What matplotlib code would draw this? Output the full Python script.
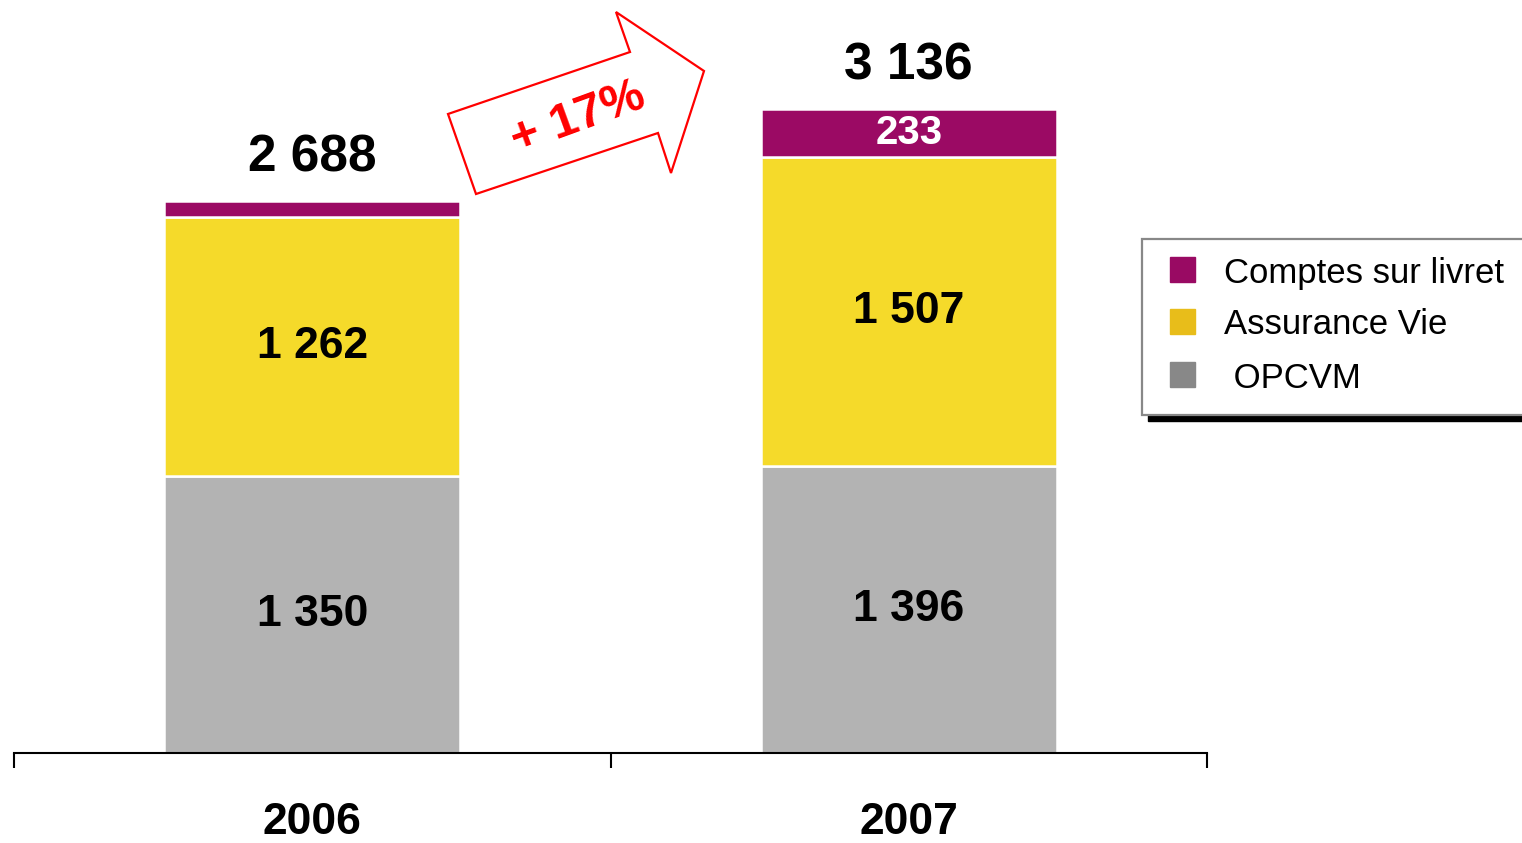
import matplotlib.pyplot as plt
from matplotlib.patches import Rectangle, Polygon

plt.rcParams['font.family'] = ['Liberation Sans', 'DejaVu Sans']

years = ['2006', '2007']
opcvm = [1350, 1396]
assurance_vie = [1262, 1507]
comptes_livret = [76, 233]
totals = [2688, 3136]

series_names = ['OPCVM', 'Assurance Vie', 'Comptes sur livret']
bar_colors = ['#b3b3b3', '#f5da2a', '#9b0a64']
legend_colors = ['#888888', '#e8bd1a', '#990a63']

W, H = 1522, 843


def fmt(v):
    return f"{v:,}".replace(",", " ")


def px(x, y):
    # pixel position -> figure fraction
    return x / W, 1 - y / H


fig = plt.figure(figsize=(W / 100, H / 100), dpi=100)
ax = fig.add_axes([14 / W, (H - 753) / H, (1207 - 14) / W, 753 / H])

x = range(len(years))
bottom = [0, 0]
for vals, color in zip([opcvm, assurance_vie, comptes_livret], bar_colors):
    ax.bar(x, vals, bottom=bottom, width=0.497, color=color,
           edgecolor='white', linewidth=1.8)
    bottom = [b + v for b, v in zip(bottom, vals)]

# labels inside segments
for i in x:
    ax.text(i, opcvm[i] / 2, fmt(opcvm[i]), ha='center', va='center',
            fontsize=32, fontweight='bold', color='black')
    ax.text(i, opcvm[i] + assurance_vie[i] / 2, fmt(assurance_vie[i]),
            ha='center', va='center', fontsize=32, fontweight='bold', color='black')
# only the 2007 savings segment is wide enough for its label
ax.text(1, opcvm[1] + assurance_vie[1] + comptes_livret[1] / 2, fmt(comptes_livret[1]),
        ha='center', va='center', fontsize=29, fontweight='bold', color='white')

for i in x:
    ax.annotate(fmt(totals[i]), (i, totals[i]), xytext=(0, 31),
                textcoords='offset points', ha='center', va='center',
                fontsize=37, fontweight='bold')

ax.set_xlim(-0.5, 1.5)
ax.set_ylim(0, 753 / (552 / 2688))
for s in ['top', 'right', 'left']:
    ax.spines[s].set_visible(False)
ax.spines['bottom'].set_linewidth(1.5)
ax.set_yticks([])
ax.set_xticks([-0.5, 0.5, 1.5])
ax.set_xticklabels([])
ax.tick_params(axis='x', which='major', direction='out', length=11, width=1.5)
ax.set_xticks(list(x), minor=True)
ax.set_xticklabels(years, minor=True, fontsize=32, fontweight='bold')
ax.tick_params(axis='x', which='minor', length=0, pad=35)

# growth arrow
arrow_pts = [(476, 194), (448, 114), (630, 52), (616, 12), (704, 71),
             (671, 173), (658, 133)]
fig.add_artist(Polygon([px(a, b) for a, b in arrow_pts], closed=True,
                       facecolor='white', edgecolor='red', linewidth=1.6,
                       transform=fig.transFigure))
fig.text(*px(578, 118), '+ 17%', color='red', fontsize=35, fontweight='bold',
         rotation=20, ha='center', va='center')

# legend box with shadow
fig.add_artist(Rectangle(px(1148, 421), (W - 1148) / W, 6 / H, color='black',
                         transform=fig.transFigure))
fig.add_artist(Rectangle(px(1142, 415), (W - 1142 + 10) / W, (415 - 239) / H,
                         facecolor='white', edgecolor='#888888', linewidth=1.6,
                         transform=fig.transFigure, clip_on=False))
leg_items = [('Comptes sur livret', legend_colors[2], 270, 1224),
             ('Assurance Vie', legend_colors[1], 322, 1224),
             (' OPCVM', legend_colors[0], 375, 1224)]
for label, color, yc, tx in leg_items:
    fig.add_artist(Rectangle(px(1170, yc + 12), 25 / W, 25 / H, color=color,
                             transform=fig.transFigure))
    fig.text(*px(tx, yc + 3), label, fontsize=25, va='center', ha='left')

fig.savefig('out.png', dpi=100)
